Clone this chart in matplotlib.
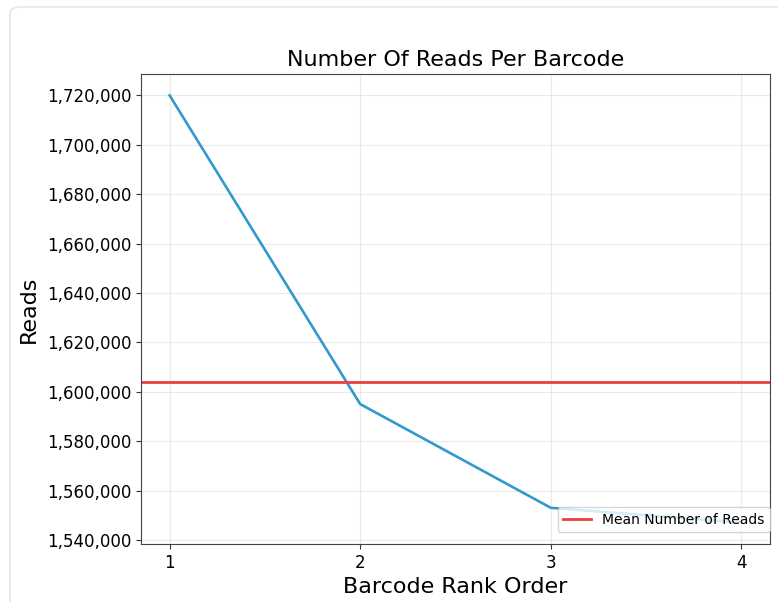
import matplotlib
matplotlib.use('Agg')
from matplotlib import pyplot as plt
from matplotlib.patches import FancyBboxPatch
from matplotlib.ticker import FuncFormatter, MultipleLocator

# barcode rank vs number of reads
ranks = [1, 2, 3, 4]
reads = [1720000, 1595000, 1553000, 1547000]
mean_reads = sum(reads) / len(reads)

title = 'Number Of Reads Per Barcode'
x_label = 'Barcode Rank Order'
y_label = 'Reads'
legend_label = 'Mean Number of Reads'


def main():
    fig = plt.figure(figsize=(7.78, 6.02), dpi=100)

    # faint screenshot card border
    card = FancyBboxPatch((10 / 778, -0.05), 1.2, (602 - 7) / 602 + 0.05,
                          boxstyle='round,pad=0,rounding_size=0.012',
                          transform=fig.transFigure, facecolor='white',
                          edgecolor='#e6e6e6', linewidth=1.2, zorder=-10)
    fig.patches.append(card)

    ax = fig.add_axes([141 / 778, 1 - 544 / 602, (770 - 141) / 778, (544 - 74) / 602])

    ax.plot(ranks, reads, color='#3399cc', linewidth=1.9)
    ax.axhline(mean_reads, color='#e8403a', linewidth=2, label=legend_label)

    ax.set_title(title, fontsize=16)
    ax.set_xlabel(x_label, fontsize=16)
    ax.set_ylabel(y_label, fontsize=16, labelpad=6)

    ax.xaxis.set_major_locator(MultipleLocator(1))
    ax.yaxis.set_major_locator(MultipleLocator(20000))
    ax.yaxis.set_major_formatter(FuncFormatter(lambda v, p: f'{int(v):,}'))
    ax.tick_params(labelsize=12, color='#333333')
    ax.grid(True, color='#dddddd', alpha=0.6, linewidth=0.8)

    for spine in ax.spines.values():
        spine.set_color('#444444')

    ax.legend(loc='lower right', bbox_to_anchor=(1.0, 0.025), fontsize=10,
              borderaxespad=0.0)

    fig.savefig('out.png', dpi=100)
    plt.close(fig)


if __name__ == '__main__':
    main()
